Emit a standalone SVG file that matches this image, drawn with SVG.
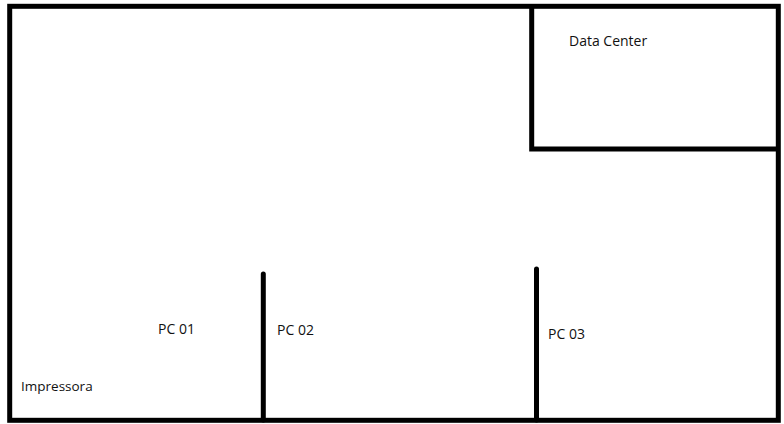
<svg xmlns="http://www.w3.org/2000/svg" width="784" height="424" viewBox="0 0 784 424">
<style>
.w{stroke:#000;fill:none;stroke-width:5}
.t{font-family:"Open Sans","Liberation Sans",sans-serif;font-size:14px;fill:#111}
</style>
<rect width="784" height="424" fill="#fff"/>
<rect class="w" x="9.700" y="6.300" width="768.600" height="414"/>
<path class="w" d="M531.700 6.300V149H778"/>
<path class="w" d="M263.300 274V420" stroke-linecap="round"/>
<path class="w" d="M536.500 269V420" stroke-linecap="round"/>
<text class="t" x="569" y="46">Data Center</text>
<text class="t" x="158" y="334">PC 01</text>
<text class="t" x="277" y="335">PC 02</text>
<text class="t" x="548" y="339">PC 03</text>
<text class="t" x="21" y="391" style="font-size:13.5px">Impressora</text>
</svg>
